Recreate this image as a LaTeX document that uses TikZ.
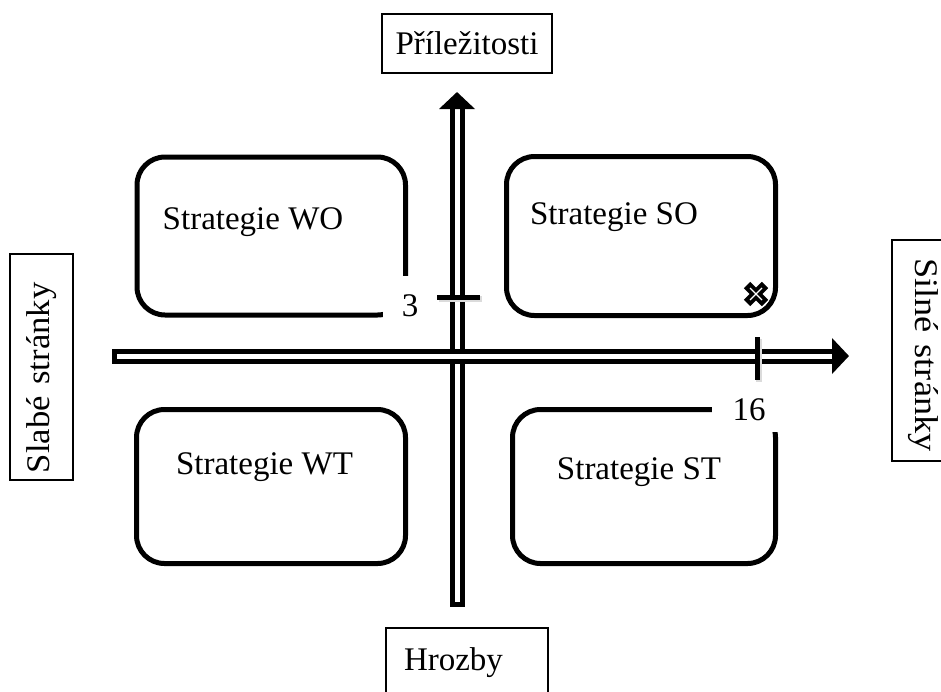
\documentclass[tikz,border=0pt]{standalone}
\usepackage{fontspec}
\setmainfont{Liberation Serif}
\usetikzlibrary{arrows.meta}
\tikzset{
  strategybox/.style={rectangle,draw,line width=5pt,rounded corners=28pt},
  labelbox/.style={rectangle,draw,line width=1.8pt},
  numbox/.style={rectangle,fill=white,anchor=north west,inner sep=0pt},
  axis/.style={double,double distance=5pt,line width=5pt,{Bar[width=15pt,line width=5pt]}-{Triangle[length=17pt,width=35pt]}},
  tickline/.style={line width=5pt,preaction={draw=black!14,line width=6pt,transform canvas={shift={(2,2)}}}},
}
\begin{document}
\begin{tikzpicture}[x=1pt,y=-1pt,font=\fontsize{33}{38}\selectfont]
\useasboundingbox (0,0) rectangle (941,691);
\node (wo) [strategybox,minimum width=268.5pt,minimum height=158pt] at (271.25,236) {};
\node (so) [strategybox,minimum width=269pt,minimum height=159pt] at (641,236) {};
\node (wt) [strategybox,minimum width=269pt,minimum height=154pt] at (271,486.5) {};
\node (st) [strategybox,minimum width=263pt,minimum height=154pt] at (644,486.5) {};
\node (wotext) at (253,222) {Strategie WO};
\node (sotext) at (614,217) {Strategie SO};
\node (wttext) at (264.5,467) {Strategie WT};
\node (sttext) at (639,472) {Strategie ST};
\node (three) [numbox,minimum width=54pt,minimum height=60pt] at (383,276) {3};
\node (sixteen) [numbox,minimum width=74pt,minimum height=44pt] at (712,388) {16};

\node (opp) [labelbox,minimum width=170pt,minimum height=59pt] at (467,43.5) {Příležitosti};
\node (thr) [labelbox,minimum height=70pt,text width=126pt,inner xsep=18pt,align=left] at (467,663) {Hrozby};
\node (weak) [labelbox,rotate=90,minimum height=63pt,text width=212pt,inner xsep=7pt,align=left] at (41.5,367) {\scalebox{1.05}[1]{Slabé stránky}};
\node (strong) [labelbox,rotate=-90,minimum height=63pt,text width=185pt,inner xsep=18pt,align=left] at (923.5,350.5) {\scalebox{1.1}[1]{Silné stránky}};

\coordinate (vbot) at (457,607);
\coordinate (vtop) at (457,92);
\coordinate (hleft) at (112,356);
\coordinate (hright) at (849,356);
\draw [axis] (vbot) -- (vtop);
\draw [axis] (hleft) -- (hright);

\coordinate (tickw) at (437,297);
\coordinate (ticke) at (480,297);
\coordinate (tickn) at (757,337);
\coordinate (ticks) at (757,380);
\draw [tickline] (tickw) -- (ticke);
\draw [tickline] (tickn) -- (ticks);

\coordinate (mark) at (756,294);
\draw [line width=9pt] (mark) +(-9,-9) -- +(9,9) (mark) +(-9,9) -- +(9,-9);
\draw [white,line width=1.2pt] (mark) +(-6,-6) -- +(6,6) (mark) +(-6,6) -- +(6,-6);
\end{tikzpicture}
\end{document}
